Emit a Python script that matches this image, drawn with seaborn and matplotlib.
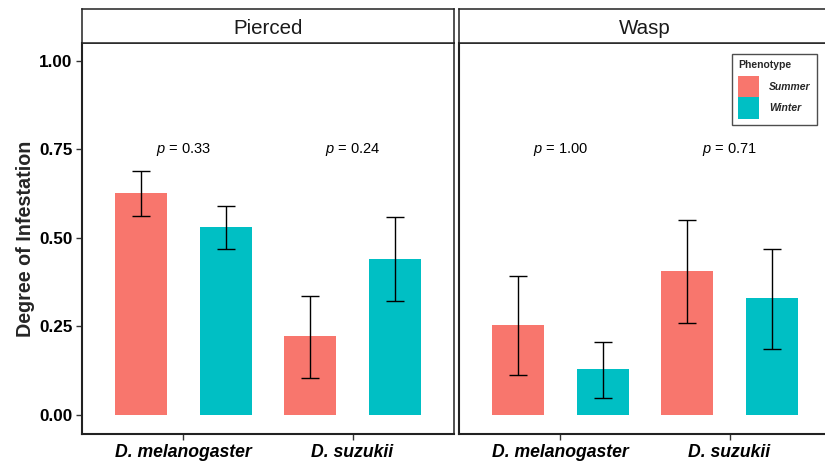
import pandas as pd
import seaborn as sns
import matplotlib.pyplot as plt
from matplotlib.patches import Patch

# data
treatment = ['Pierced'] * 4 + ['Wasp'] * 4
species = ['D. melanogaster', 'D. melanogaster', 'D. suzukii', 'D. suzukii'] * 2
phenotype = ['Summer', 'Winter'] * 4
infestation = [0.627, 0.531, 0.222, 0.441, 0.255, 0.131, 0.406, 0.330]
lower = [0.562, 0.469, 0.104, 0.322, 0.113, 0.048, 0.260, 0.185]
upper = [0.689, 0.590, 0.336, 0.559, 0.394, 0.207, 0.551, 0.469]

species_order = ['D. melanogaster', 'D. suzukii']
pheno_order = ['Summer', 'Winter']
facets = ['Pierced', 'Wasp']
p_values = {'Pierced': ['0.33', '0.24'], 'Wasp': ['1.00', '0.71']}
yticks = [0, 0.25, 0.5, 0.75, 1.0]

df = pd.DataFrame({'treatment': treatment, 'species': species, 'phenotype': phenotype,
                   'infestation': infestation, 'lower': lower, 'upper': upper})

palette = {'Summer': '#F8766D', 'Winter': '#00BFC4'}

sns.set_theme(style='white')
plt.rcParams['font.family'] = ['Liberation Sans', 'DejaVu Sans']
plt.rcParams['mathtext.fontset'] = 'custom'
plt.rcParams['mathtext.it'] = 'Liberation Sans:italic'
plt.rcParams['mathtext.rm'] = 'Liberation Sans'

W, H = 825, 461
fig = plt.figure(figsize=(W / 100, H / 100), dpi=100)
fig.patch.set_facecolor('white')

panel_left = [82, 459]
panel_w = 372
panel_top, panel_bottom = 43, 434
strip_top = 9

axes = []
for i, facet in enumerate(facets):
    ax = fig.add_axes([panel_left[i] / W, 1 - panel_bottom / H, panel_w / W, (panel_bottom - panel_top) / H])
    sub = df[df['treatment'] == facet]
    sns.barplot(data=sub, x='species', y='infestation', hue='phenotype', order=species_order,
                hue_order=pheno_order, palette=palette, saturation=1, width=1.0, gap=0.38,
                linewidth=0, errorbar=None, legend=False, ax=ax)
    # error bars placed at the centres of the drawn bars
    for cont, ph in zip(ax.containers, pheno_order):
        for bar, sp in zip(cont, species_order):
            row = sub[(sub['species'] == sp) & (sub['phenotype'] == ph)].iloc[0]
            xc = bar.get_x() + bar.get_width() / 2
            ax.errorbar(xc, row['infestation'],
                        yerr=[[row['infestation'] - row['lower']], [row['upper'] - row['infestation']]],
                        fmt='none', ecolor='black', elinewidth=1.0, capsize=6.5, capthick=1.0, zorder=5)
    # p-value labels
    for j, pv in enumerate(p_values[facet]):
        ax.text(j, 0.75, r'$\it{p}$' + ' = ' + pv, ha='center', va='center', fontsize=10.5, color='black')

    ax.set_xlim(-0.6, 1.6)
    ax.set_ylim(-0.0537, 1.0508)
    ax.set_xlabel('')
    ax.set_ylabel('')
    ax.set_yticks(yticks)
    for lab in ax.get_xticklabels():
        lab.set_fontweight('bold')
        lab.set_fontstyle('italic')
        lab.set_fontsize(12.7)
        lab.set_color('black')
    ax.tick_params(axis='x', bottom=True, length=4, width=1, color='#333333', pad=3)
    for s in ax.spines.values():
        s.set_visible(True)
        s.set_color('#222222')
        s.set_linewidth(1.1)
    ax.spines['left'].set_linewidth(1.5)
    ax.spines['bottom'].set_linewidth(1.5)

    # facet strip
    sax = fig.add_axes([panel_left[i] / W, 1 - panel_top / H, panel_w / W, (panel_top - strip_top) / H])
    sax.set_xticks([])
    sax.set_yticks([])
    sax.set_facecolor('white')
    for s in sax.spines.values():
        s.set_visible(True)
        s.set_color('#222222')
        s.set_linewidth(1.1)
    sax.text(0.5, 0.5, facet, ha='center', va='center_baseline', fontsize=14.8, color='#1a1a1a',
             transform=sax.transAxes)
    axes.append(ax)

ax1, ax2 = axes
ax1.set_yticklabels(['%.2f' % t for t in yticks], fontweight='bold', fontsize=12.3, color='black')
ax1.tick_params(axis='y', left=True, length=4, width=1, color='#333333', pad=3)
ax1.set_ylabel('Degree of Infestation', fontsize=14.2, fontweight='bold', labelpad=3)
ax2.set_yticklabels([])
ax2.tick_params(axis='y', left=False)

handles = [Patch(facecolor=palette[p], edgecolor='none', label=p) for p in pheno_order]
leg = ax2.legend(handles=handles, title='Phenotype', loc='upper right',
                 bbox_to_anchor=(0.962, 0.972), frameon=True, fancybox=False,
                 prop={'weight': 'bold', 'style': 'italic', 'size': 7.5},
                 title_fontproperties={'weight': 'bold', 'size': 7.5},
                 handlelength=2.0, handleheight=2.8, handletextpad=1.0,
                 labelspacing=0.0, borderpad=0.6, borderaxespad=0)
leg._legend_box.align = 'left'
leg._legend_box.sep = 4
leg.get_frame().set_edgecolor('#222222')
leg.get_frame().set_linewidth(1.0)

fig.savefig('out.png', dpi=100, facecolor='white')
